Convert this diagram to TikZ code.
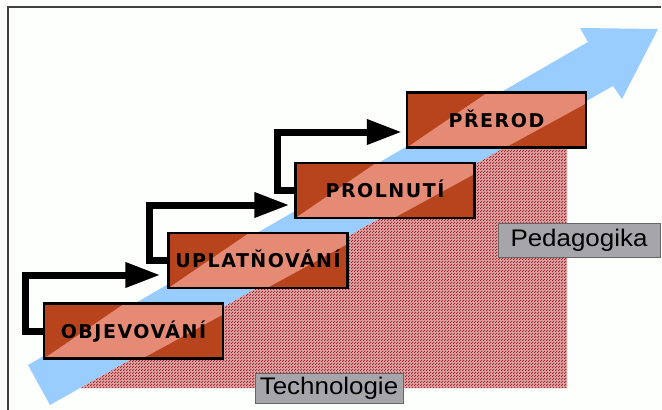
\documentclass[tikz,border=0pt]{standalone}
\usepackage{fontspec}
\setmainfont{Liberation Sans}
\newfontfamily\stepfont[LetterSpace=8]{DejaVu Sans}
\usetikzlibrary{arrows.meta, patterns, calc}
\tikzset{>=Triangle}

\definecolor{boxdark}{RGB}{184,68,30}
\definecolor{boxlight}{RGB}{229,138,116}
\definecolor{skyarrow}{RGB}{153,204,255}
\definecolor{taggray}{RGB}{166,166,170}
\definecolor{dotred}{RGB}{160,30,35}
\definecolor{dotback}{RGB}{222,165,165}

\pgfdeclarepatternformonly{checkdots}{\pgfqpoint{0pt}{0pt}}{\pgfqpoint{3pt}{3pt}}{\pgfqpoint{3pt}{3pt}}{
  \pgfpathcircle{\pgfqpoint{0.75pt}{0.75pt}}{0.9pt}
  \pgfpathcircle{\pgfqpoint{2.25pt}{2.25pt}}{0.9pt}
  \pgfusepath{fill}
}

\tikzset{
  stepbox/.style={draw=black, line width=2.5pt, fill=boxdark,
    minimum width=179pt, minimum height=55pt, inner sep=0pt,
    text height=14pt, text depth=0pt,
    font=\stepfont\bfseries\fontsize{19}{19}\selectfont,
    path picture={
      \fill[boxlight] (path picture bounding box.south west)
        -- ($(path picture bounding box.north west)!0.45!(path picture bounding box.north east)$)
        -- (path picture bounding box.north east)
        -- ($(path picture bounding box.north east)!0.2!(path picture bounding box.south east)$)
        -- ($(path picture bounding box.south west)!0.55!(path picture bounding box.south east)$)
        -- cycle;
    }},
  tag/.style={draw=black!60, line width=1pt, fill=taggray, inner sep=0pt,
    font=\fontsize{24}{24}\selectfont},
  flow/.style={line width=7pt, -{Triangle[length=35pt, width=24pt]}}
}

\begin{document}
\begin{tikzpicture}[x=1pt, y=-1pt]
\useasboundingbox (0,0) rectangle (662,410);
\fill[white!96!green!20] (0,0) rectangle (662,410);
\draw[line width=2pt, black!75] (8,412) -- (8,7) -- (661,7);

% background: dotted area and rising arrow
\fill[preaction={fill=dotback}, pattern=checkdots, pattern color=dotred]
  (80,388) -- (567,388) -- (567,112) -- cycle;
\fill[skyarrow] (28,365) -- (588,42) -- (580,28) -- (658,29) -- (622,99) -- (613,86) -- (50,405) -- cycle;

% labels
\node[tag, minimum width=162pt, minimum height=34pt] (ped) at (579,240) {\scalebox{1.08}[1]{Pedagogika}};
\node[tag, minimum width=148pt, minimum height=30pt] (tech) at (329,388) {\scalebox{1.08}[1]{Technologie}};

% steps
\node[stepbox] (obj) at (133.5,331) {OBJEVOVÁNÍ};
\node[stepbox] (upl) at (258,260.5) {UPLATŇOVÁNÍ};
\node[stepbox] (pro) at (385,190.5) {PROLNUTÍ};
\node[stepbox] (pre) at (496.5,120) {PŘEROD};

\draw[flow] (obj.west) -- ++(-17,0) |- ([xshift=-7pt, yshift=-14.5pt]upl.west);
\draw[flow] (upl.west) -- ++(-18,0) |- ([xshift=-5pt, yshift=-14.5pt]pro.west);
\draw[flow] (pro.west) -- ++(-17,0) |- ([xshift=-4pt, yshift=-12pt]pre.west);
\end{tikzpicture}
\end{document}
